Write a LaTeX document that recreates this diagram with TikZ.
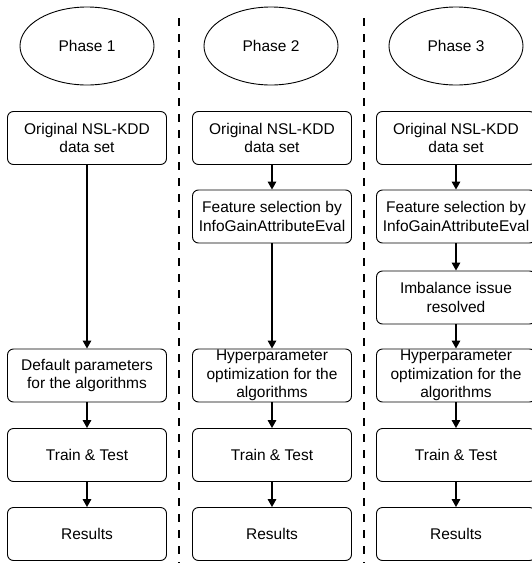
\documentclass[tikz,border=0pt]{standalone}
\usepackage{fontspec}
\setmainfont{Liberation Sans}
\usetikzlibrary{arrows.meta,shapes.geometric}
\begin{document}
\begin{tikzpicture}[x=1pt,y=-1pt,
  txtfont/.style={font=\fontsize{15.5}{18.3}\selectfont},
  stepbox/.style={draw=black, line width=0.9pt, rounded corners=6pt,
    minimum width=159pt, minimum height=53pt, inner sep=0pt, align=center, txtfont},
  phase/.style={draw=black, line width=0.9pt, ellipse, minimum width=134pt,
    minimum height=78pt, inner sep=0pt, txtfont},
  arr/.style={-{Triangle[length=8pt,width=8.5pt]}, line width=1.6pt},
  sep/.style={line width=2pt, dash pattern=on 7.5pt off 8.5pt}]
\useasboundingbox (0,0) rectangle (531,563);

% separators
\coordinate (d1t) at (179,18);
\coordinate (d1b) at (179,563);
\coordinate (d2t) at (364,18);
\coordinate (d2b) at (364,563);
\draw[sep] (d1t) -- (d1b);
\draw[sep] (d2t) -- (d2b);

% phase ellipses
\node[phase] (p1) at (87,46) {Phase 1};
\node[phase] (p2) at (271,46) {Phase 2};
\node[phase] (p3) at (456,46) {Phase 3};

% column 1
\node[stepbox] (a1) at (87,138) {Original NSL-KDD\\data set};
\node[stepbox] (a2) at (87,375.5) {Default parameters\\for the algorithms};
\node[stepbox] (a3) at (87,455) {Train \& Test};
\node[stepbox] (a4) at (87,534) {Results};

% column 2
\node[stepbox] (b1) at (272,138) {Original NSL-KDD\\data set};
\node[stepbox] (b2) at (272,216.5) {Feature selection by\\InfoGainAttributeEval};
\node[stepbox] (b3) at (272,375.5) {Hyperparameter\\optimization for the\\algorithms};
\node[stepbox] (b4) at (272,455) {Train \& Test};
\node[stepbox] (b5) at (272,534) {Results};

% column 3
\node[stepbox] (c1) at (456,138) {Original NSL-KDD\\data set};
\node[stepbox] (c2) at (456,216.5) {Feature selection by\\InfoGainAttributeEval};
\node[stepbox] (c3) at (456,297.5) {Imbalance issue\\resolved};
\node[stepbox] (c4) at (456,375.5) {Hyperparameter\\optimization for the\\algorithms};
\node[stepbox] (c5) at (456,455) {Train \& Test};
\node[stepbox] (c6) at (456,534) {Results};

% arrows
\draw[arr] (a1) -- (a2);
\draw[arr] (a2) -- (a3);
\draw[arr] (a3) -- (a4);
\draw[arr] (b1) -- (b2);
\draw[arr] (b2) -- (b3);
\draw[arr] (b3) -- (b4);
\draw[arr] (b4) -- (b5);
\draw[arr] (c1) -- (c2);
\draw[arr] (c2) -- (c3);
\draw[arr] (c3) -- (c4);
\draw[arr] (c4) -- (c5);
\draw[arr] (c5) -- (c6);
\end{tikzpicture}
\end{document}
